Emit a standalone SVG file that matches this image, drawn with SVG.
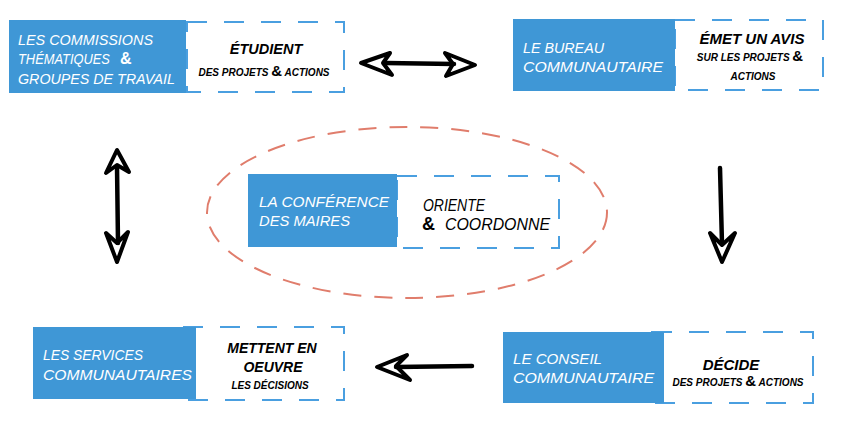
<svg xmlns="http://www.w3.org/2000/svg" width="844" height="422" viewBox="0 0 844 422">
<style>
.blue{fill:#3f97d6}
.dash{fill:#fff;stroke:#4a9fe0;stroke-width:2;stroke-dasharray:20 17}
.wt{fill:#fff;font-family:"Liberation Sans",Arial,sans-serif;font-style:italic;font-size:15.5px}
.bt{fill:#000;font-family:"Liberation Sans",Arial,sans-serif;font-style:italic;font-weight:bold;text-anchor:middle}
.big{font-size:14.5px}
.sm{font-size:10px}
.amp{font-size:15px;font-style:normal;font-weight:bold}
.ct{fill:#000;font-family:"Liberation Sans",Arial,sans-serif;font-style:italic;font-size:16.5px}
.arr{fill:none;stroke:#000;stroke-width:4;stroke-linejoin:round;stroke-linecap:round}
.shaft{fill:none;stroke:#000;stroke-width:4.5;stroke-linecap:round}
</style>
<ellipse cx="407" cy="212.5" rx="200" ry="85.5" fill="none" stroke="#e07d6c" stroke-width="2" stroke-dasharray="18 13"/>

<g id="commissions">
<rect class="dash" x="187" y="22" width="157" height="70"/>
<rect class="blue" x="9" y="20" width="177" height="73"/>
<text class="wt" x="18" y="45" textLength="135" lengthAdjust="spacingAndGlyphs">LES COMMISSIONS</text>
<text class="wt" transform="translate(18,64) scale(0.83,1)">THÉMATIQUES</text>
<text x="120" y="64" fill="#fff" font-family="Liberation Sans,Arial,sans-serif" font-weight="bold" font-size="16">&amp;</text>
<text class="wt" x="18" y="84" textLength="157" lengthAdjust="spacingAndGlyphs">GROUPES DE TRAVAIL</text>
<text class="bt big" x="266" y="54">ÉTUDIENT</text>
<text class="bt sm" x="264" y="76" font-style="normal">DES PROJETS <tspan class="amp">&amp;</tspan> ACTIONS</text>
</g>

<g id="bureau">
<rect class="dash" x="675" y="20" width="148" height="70"/>
<rect class="blue" x="513" y="19" width="162" height="72"/>
<text class="wt" x="523" y="53" textLength="81" lengthAdjust="spacingAndGlyphs">LE BUREAU</text>
<text class="wt" x="523" y="72" textLength="140" lengthAdjust="spacingAndGlyphs">COMMUNAUTAIRE</text>
<text class="bt" x="752" y="44" font-size="15">ÉMET UN AVIS</text>
<text class="bt sm" x="750" y="61">SUR LES PROJETS <tspan class="amp">&amp;</tspan></text>
<text class="bt sm" x="753" y="80">ACTIONS</text>
</g>

<g id="conference">
<rect class="dash" x="397" y="176" width="162" height="72"/>
<rect class="blue" x="248" y="174" width="149" height="73"/>
<text class="wt" x="259" y="207" textLength="130" lengthAdjust="spacingAndGlyphs">LA CONFÉRENCE</text>
<text class="wt" x="259" y="226" textLength="91" lengthAdjust="spacingAndGlyphs">DES MAIRES</text>
<text class="ct" x="423" y="211" textLength="62" lengthAdjust="spacingAndGlyphs">ORIENTE</text>
<text x="422" y="230" font-family="Liberation Sans,Arial,sans-serif" font-weight="bold" font-size="18">&amp;</text>
<text class="ct" x="445" y="230" textLength="105" lengthAdjust="spacingAndGlyphs">COORDONNE</text>
</g>

<g id="services">
<rect class="dash" x="183" y="327" width="161" height="73"/>
<rect class="blue" x="33" y="327" width="163" height="72"/>
<text class="wt" x="43" y="360" textLength="100" lengthAdjust="spacingAndGlyphs">LES SERVICES</text>
<text class="wt" x="43" y="380" textLength="149" lengthAdjust="spacingAndGlyphs">COMMUNAUTAIRES</text>
<text class="bt" x="272" y="353" font-size="14">METTENT EN</text>
<text class="bt" x="273" y="372" font-size="14">OEUVRE</text>
<text class="bt sm" x="270" y="389" font-style="normal" font-weight="normal">LES DÉCISIONS</text>
</g>

<g id="conseil">
<rect class="dash" x="652" y="332" width="161" height="71"/>
<rect class="blue" x="503" y="332" width="161" height="71"/>
<text class="wt" x="513" y="364" textLength="89" lengthAdjust="spacingAndGlyphs">LE CONSEIL</text>
<text class="wt" x="513" y="383" textLength="141" lengthAdjust="spacingAndGlyphs">COMMUNAUTAIRE</text>
<text class="bt" x="731" y="370" font-size="15">DÉCIDE</text>
<text class="bt sm" x="738" y="386" font-style="normal">DES PROJETS <tspan class="amp">&amp;</tspan> ACTIONS</text>
</g>

<g id="connectors">
<path class="shaft" d="M386,63 L454,64"/>
<path class="arr" d="M361,63 L390,53 L383,63 L392,75 Z"/>
<path class="arr" d="M475,65 L445,53 L453,64 L446,76 Z"/>
<path class="shaft" d="M117,166 L118,243"/>
<path class="arr" d="M117,150 L106,173 L117,165 L129,172 Z"/>
<path class="arr" d="M117,262 L106,233 L117,243 L128,232 Z"/>
<path class="shaft" d="M720,168 L722,244"/>
<path class="arr" d="M722,262 L710,233 L722,245 L735,233 Z"/>
<path class="shaft" d="M396,367 L472,366"/>
<path class="arr" d="M377,367 L407,355 L396,366 L410,380 Z"/>
</g>
</svg>
